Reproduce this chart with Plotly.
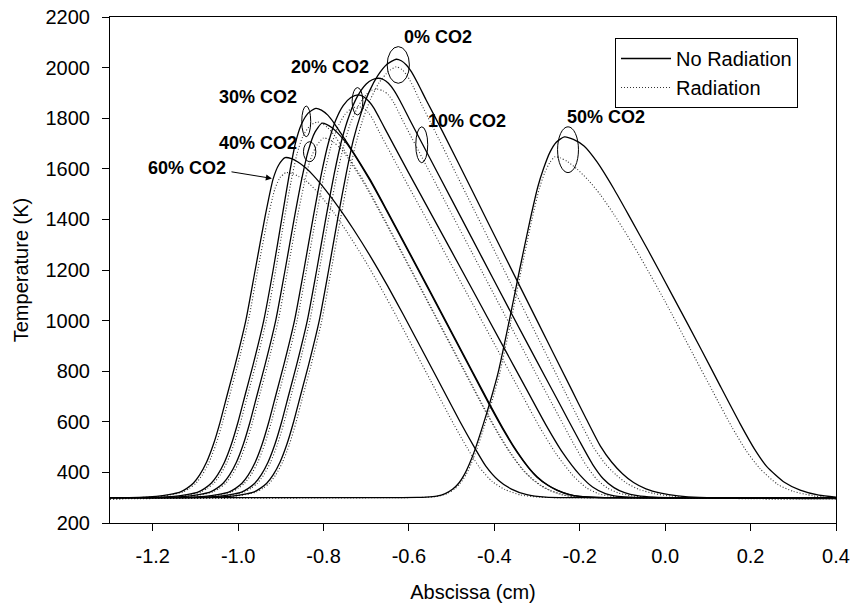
import plotly.graph_objects as go

# ---------------- data ----------------
# No Radiation (solid)
s0_x = [-1.30, -1.060, -1.020, -0.990, -0.964, -0.948, -0.933, -0.918, -0.902, -0.886, -0.870, -0.853, -0.835, -0.810,
        -0.788, -0.766, -0.747, -0.730, -0.712, -0.693, -0.673, -0.652, -0.630,
        -0.618, -0.606, -0.594, -0.580, -0.560, -0.523, -0.450, -0.380, -0.300, -0.220, -0.185, -0.152, -0.125, -0.100, -0.074, -0.045, -0.010, 0.030, 0.080, 0.40]
s0_T = [300, 301, 305, 312, 322, 337, 357, 390, 440, 510, 600, 710, 825, 1000,
        1200, 1410, 1580, 1715, 1820, 1905, 1968, 2012, 2033,
        2027, 2010, 1983, 1940, 1873, 1753, 1507, 1270, 1000, 730, 612, 505, 440, 395, 360, 335, 318, 307, 301, 300]

s10_x = [-1.30, -1.088, -1.048, -1.018, -0.992, -0.976, -0.961, -0.946, -0.930, -0.914, -0.898, -0.881, -0.863, -0.838,
         -0.816, -0.794, -0.775, -0.758, -0.740, -0.721, -0.700, -0.686, -0.672,
         -0.660, -0.648, -0.635, -0.620, -0.600, -0.569, -0.500, -0.430, -0.359, -0.300, -0.250, -0.200, -0.170, -0.145, -0.120, -0.095, -0.065, -0.025, 0.030, 0.40]
s10_T = [300, 301, 305, 312, 322, 337, 357, 390, 440, 510, 600, 710, 825, 1000,
         1200, 1410, 1580, 1710, 1810, 1885, 1935, 1952, 1958,
         1953, 1938, 1910, 1866, 1800, 1700, 1478, 1253, 1025, 838, 680, 522, 432, 375, 340, 320, 308, 302, 300, 300]

s20_x = [-1.30, -1.118, -1.078, -1.048, -1.022, -1.006, -0.991, -0.976, -0.960, -0.944, -0.928, -0.911, -0.893, -0.868,
         -0.846, -0.824, -0.805, -0.789, -0.772, -0.754, -0.736, -0.719,
         -0.706, -0.694, -0.682, -0.670, -0.655, -0.600, -0.550, -0.450, -0.379, -0.330, -0.280, -0.240, -0.200, -0.170, -0.140, -0.110, -0.070, 0.40]
s20_T = [300, 301, 305, 312, 322, 337, 357, 390, 440, 510, 600, 710, 825, 1000,
         1200, 1410, 1580, 1700, 1790, 1850, 1882, 1892,
         1885, 1867, 1840, 1803, 1755, 1582, 1428, 1118, 897, 745, 590, 478, 390, 342, 316, 305, 301, 300]

s30_x = [-1.30, -1.190, -1.150, -1.120, -1.094, -1.078, -1.063, -1.048, -1.032, -1.016, -1.000, -0.983, -0.965, -0.940,
         -0.918, -0.898, -0.881, -0.866, -0.852, -0.836, -0.818,
         -0.805, -0.790, -0.775, -0.760, -0.738, -0.691, -0.650, -0.550, -0.450, -0.410, -0.375, -0.347, -0.320, -0.300, -0.275, -0.253, -0.225, -0.200, -0.160, 0.40]
s30_T = [300, 301, 305, 312, 322, 337, 357, 390, 440, 510, 600, 710, 825, 1000,
         1200, 1400, 1570, 1700, 1775, 1820, 1839,
         1832, 1812, 1780, 1742, 1686, 1558, 1431, 1115, 795, 667, 560, 483, 420, 383, 350, 330, 313, 305, 301, 300]

s40_x = [-1.30, -1.162, -1.122, -1.092, -1.066, -1.050, -1.035, -1.020, -1.004, -0.988, -0.972, -0.955, -0.937, -0.912,
         -0.890, -0.869, -0.851, -0.836, -0.820, -0.804,
         -0.792, -0.780, -0.766, -0.752, -0.738, -0.691, -0.650, -0.550, -0.450, -0.410, -0.375, -0.347, -0.320, -0.300, -0.275, -0.253, -0.225, -0.200, -0.160, 0.40]
s40_T = [300, 301, 305, 312, 322, 337, 357, 390, 440, 510, 600, 710, 825, 1000,
         1200, 1400, 1560, 1670, 1745, 1780,
         1775, 1762, 1740, 1713, 1682, 1553, 1427, 1110, 790, 662, 556, 480, 418, 381, 349, 329, 312, 305, 301, 300]

s50_x = [-1.30, -0.640, -0.580, -0.560, -0.535, -0.515, -0.498, -0.483, -0.470, -0.458, -0.446, -0.426, -0.408, -0.391, -0.365, -0.341, -0.316, -0.298, -0.285, -0.270, -0.255, -0.236,
         -0.215, -0.190, -0.160, -0.120, -0.080, -0.039, 0.020, 0.085, 0.130, 0.175, 0.210, 0.238, 0.280, 0.316, 0.360, 0.40]
s50_T = [300, 300, 301, 302, 306, 316, 333, 358, 392, 435, 487, 590, 690, 795, 1000, 1200, 1400, 1530, 1600, 1665, 1705, 1726,
         1716, 1690, 1628, 1520, 1400, 1275, 1090, 884, 738, 594, 490, 423, 360, 330, 310, 302]

s60_x = [-1.30, -1.232, -1.192, -1.162, -1.136, -1.120, -1.105, -1.090, -1.074, -1.058, -1.042, -1.025, -1.007, -0.982,
         -0.960, -0.937, -0.918, -0.905, -0.890,
         -0.875, -0.860, -0.842, -0.824, -0.795, -0.761, -0.730, -0.691, -0.650, -0.613, -0.535, -0.480, -0.449, -0.420, -0.390, -0.360, -0.324, -0.280, -0.220, 0.40]
s60_T = [300, 301, 305, 312, 322, 337, 357, 390, 440, 510, 600, 710, 825, 1000,
         1200, 1410, 1560, 1615, 1644,
         1640, 1627, 1604, 1574, 1516, 1439, 1361, 1256, 1137, 1023, 775, 599, 506, 425, 368, 334, 312, 302, 300, 300]

# Radiation (dotted)
r0_x = [-1.30, -1.054, -1.014, -0.984, -0.958, -0.942, -0.927, -0.912, -0.896, -0.880, -0.864, -0.847, -0.829, -0.804,
        -0.782, -0.760, -0.742, -0.725, -0.708, -0.690, -0.670, -0.648, -0.630,
        -0.616, -0.603, -0.590, -0.575, -0.538, -0.465, -0.395, -0.315, -0.235, -0.200, -0.167, -0.140, -0.115, -0.089, -0.060, -0.025, 0.015, 0.065, 0.40]
r0_T = [296, 301, 305, 312, 322, 337, 357, 390, 440, 510, 600, 710, 825, 1000,
        1200, 1405, 1565, 1695, 1795, 1875, 1940, 1985, 2003,
        1992, 1965, 1925, 1870, 1745, 1497, 1260, 990, 720, 602, 497, 433, 390, 356, 332, 316, 306, 300, 296]

r10_x = [-1.30, -1.082, -1.042, -1.012, -0.986, -0.970, -0.955, -0.940, -0.924, -0.908, -0.892, -0.875, -0.857, -0.832,
         -0.810, -0.788, -0.770, -0.753, -0.736, -0.718, -0.700, -0.688, -0.675,
         -0.660, -0.648, -0.635, -0.615, -0.584, -0.515, -0.445, -0.374, -0.315, -0.265, -0.215, -0.185, -0.160, -0.135, -0.110, -0.080, -0.040, 0.020, 0.40]
r10_T = [296, 301, 305, 312, 322, 337, 357, 390, 440, 510, 600, 710, 825, 1000,
         1200, 1405, 1565, 1690, 1785, 1850, 1893, 1910, 1915,
         1908, 1892, 1860, 1792, 1692, 1470, 1245, 1017, 830, 672, 515, 428, 372, 338, 319, 308, 302, 298, 296]

r20_x = [-1.30, -1.112, -1.072, -1.042, -1.016, -1.000, -0.985, -0.970, -0.954, -0.938, -0.922, -0.905, -0.887, -0.862,
         -0.840, -0.818, -0.800, -0.784, -0.768, -0.750, -0.733, -0.716,
         -0.705, -0.695, -0.685, -0.670, -0.615, -0.565, -0.465, -0.394, -0.345, -0.295, -0.255, -0.215, -0.185, -0.155, -0.125, -0.085, 0.40]
r20_T = [296, 301, 305, 312, 322, 337, 357, 390, 440, 510, 600, 710, 825, 1000,
         1200, 1405, 1565, 1680, 1760, 1815, 1840, 1845,
         1838, 1822, 1797, 1747, 1574, 1420, 1110, 889, 737, 582, 472, 386, 340, 315, 305, 300, 296]

r30_x = [-1.30, -1.184, -1.144, -1.114, -1.088, -1.072, -1.057, -1.042, -1.026, -1.010, -0.994, -0.977, -0.959, -0.934,
         -0.912, -0.892, -0.876, -0.862, -0.848, -0.832, -0.815,
         -0.802, -0.790, -0.775, -0.753, -0.706, -0.665, -0.565, -0.465, -0.425, -0.390, -0.362, -0.335, -0.315, -0.290, -0.268, -0.240, -0.215, -0.175, 0.40]
r30_T = [296, 301, 305, 312, 322, 337, 357, 390, 440, 510, 600, 710, 825, 1000,
         1200, 1400, 1550, 1660, 1730, 1770, 1785,
         1778, 1762, 1733, 1677, 1552, 1425, 1106, 787, 659, 553, 477, 415, 380, 348, 328, 312, 304, 300, 296]

r40_x = [-1.30, -1.156, -1.116, -1.086, -1.060, -1.044, -1.029, -1.014, -0.998, -0.982, -0.966, -0.949, -0.931, -0.906,
         -0.884, -0.863, -0.846, -0.832, -0.817, -0.800,
         -0.788, -0.775, -0.762, -0.753, -0.706, -0.665, -0.565, -0.465, -0.425, -0.390, -0.362, -0.335, -0.315, -0.290, -0.268, -0.240, -0.215, -0.175, 0.40]
r40_T = [296, 301, 305, 312, 322, 337, 357, 390, 440, 510, 600, 710, 825, 1000,
         1200, 1395, 1535, 1630, 1690, 1722,
         1717, 1703, 1683, 1667, 1545, 1419, 1102, 782, 654, 549, 474, 413, 378, 346, 327, 311, 304, 300, 296]

r50_x = [-1.30, -0.636, -0.576, -0.556, -0.531, -0.511, -0.494, -0.479, -0.466, -0.454, -0.442, -0.422, -0.404, -0.387, -0.361, -0.337, -0.312, -0.295, -0.282, -0.270, -0.258,
         -0.245, -0.230, -0.207, -0.180, -0.152, -0.120, -0.090, -0.063, 0.000, 0.065, 0.110, 0.155, 0.190, 0.222, 0.264, 0.300, 0.345, 0.40]
r50_T = [296, 300, 301, 302, 306, 316, 333, 358, 392, 435, 487, 590, 690, 795, 1000, 1200, 1400, 1520, 1585, 1625, 1648,
         1643, 1630, 1600, 1555, 1498, 1420, 1340, 1265, 1075, 868, 725, 583, 485, 415, 352, 325, 308, 296]

r60_x = [-1.30, -1.226, -1.186, -1.156, -1.130, -1.114, -1.099, -1.084, -1.068, -1.052, -1.036, -1.019, -1.001, -0.976,
         -0.954, -0.931, -0.914, -0.902, -0.888,
         -0.873, -0.858, -0.839, -0.810, -0.776, -0.745, -0.706, -0.665, -0.628, -0.550, -0.495, -0.464, -0.435, -0.405, -0.375, -0.339, -0.295, -0.235, 0.40]
r60_T = [296, 301, 305, 312, 322, 337, 357, 390, 440, 510, 600, 710, 825, 1000,
         1200, 1400, 1520, 1565, 1585,
         1581, 1570, 1550, 1500, 1427, 1350, 1246, 1127, 1013, 765, 590, 498, 420, 364, 332, 311, 302, 300, 296]

# annotation labels: text, x, T
label_text = ["0% CO2", "10% CO2", "20% CO2", "30% CO2", "40% CO2", "50% CO2", "60% CO2"]
label_x = [-0.532, -0.465, -0.785, -0.953, -0.953, -0.138, -1.119]
label_T = [2122, 1790, 2003, 1885, 1701, 1806, 1602]

# ellipses marking the curves: x0, x1, T0, T1
ell_x0 = [-0.651, -0.584, -0.733, -0.851, -0.847, -0.252]
ell_x1 = [-0.599, -0.556, -0.708, -0.830, -0.818, -0.203]
ell_T0 = [1938, 1624, 1813, 1727, 1628, 1585]
ell_T1 = [2083, 1766, 1921, 1848, 1707, 1766]

# arrow for 60% CO2: tail -> head
arrow_tail = (-1.019, 1589)
arrow_head = (-0.921, 1562)

x_ticks = [-1.2, -1.0, -0.8, -0.6, -0.4, -0.2, 0.0, 0.2, 0.4]
x_ticktext = ["-1.2", "-1.0", "-0.8", "-0.6", "-0.4", "-0.2", "0.0", "0.2", "0.4"]

# ---------------- figure ----------------
FONT = "Arial, Liberation Sans, sans-serif"
fig = go.Figure()

solid = [(s0_x, s0_T), (s10_x, s10_T), (s20_x, s20_T), (s30_x, s30_T),
         (s40_x, s40_T), (s50_x, s50_T), (s60_x, s60_T)]
dotted = [(r0_x, r0_T), (r10_x, r10_T), (r20_x, r20_T), (r30_x, r30_T),
          (r40_x, r40_T), (r50_x, r50_T), (r60_x, r60_T)]

for i, (xs, ts) in enumerate(dotted):
    fig.add_trace(go.Scatter(
        x=xs, y=ts, mode="lines", name="Radiation", legendgroup="rad",
        showlegend=(i == 0), legendrank=2,
        line=dict(color="#333333", width=1.1, dash="1px,2px", shape="spline", smoothing=0.6)))
for i, (xs, ts) in enumerate(solid):
    fig.add_trace(go.Scatter(
        x=xs, y=ts, mode="lines", name="No Radiation", legendgroup="norad",
        showlegend=(i == 0), legendrank=1,
        line=dict(color="black", width=1.3, shape="spline", smoothing=0.6)))

for t, x, y in zip(label_text, label_x, label_T):
    fig.add_annotation(x=x, y=y, text=f"<b>{t}</b>", showarrow=False,
                       font=dict(family=FONT, size=18, color="black"))

for x0, x1, y0, y1 in zip(ell_x0, ell_x1, ell_T0, ell_T1):
    fig.add_shape(type="circle", xref="x", yref="y", x0=x0, x1=x1, y0=y0, y1=y1,
                  line=dict(color="black", width=1))

fig.add_annotation(x=arrow_head[0], y=arrow_head[1], ax=arrow_tail[0], ay=arrow_tail[1],
                   axref="x", ayref="y", text="", showarrow=True,
                   arrowhead=2, arrowsize=1.2, arrowwidth=1, arrowcolor="black")

fig.update_layout(
    width=852, height=603,
    margin=dict(l=110, r=16, t=17, b=80, autoexpand=False),
    paper_bgcolor="white", plot_bgcolor="white",
    font=dict(family=FONT, color="black", size=20),
    legend=dict(x=0.6956, y=0.9585, xanchor="left", yanchor="top",
                bordercolor="black", borderwidth=1, bgcolor="white",
                font=dict(family=FONT, size=20), itemwidth=50,
                tracegroupgap=0),
)
fig.update_xaxes(range=[-1.3, 0.4], tickvals=x_ticks, ticktext=x_ticktext,
                 showline=True, linecolor="black", linewidth=1, mirror=True,
                 ticks="outside", ticklen=7, tickcolor="black", showgrid=False, zeroline=False,
                 tickfont=dict(family=FONT, size=20), ticklabelstandoff=8, automargin=False,
                 title=dict(text="Abscissa (cm)", font=dict(family=FONT, size=20), standoff=18))
fig.update_yaxes(range=[200, 2200], tick0=200, dtick=200,
                 showline=True, linecolor="black", linewidth=1, mirror=True,
                 ticks="outside", ticklen=7, tickcolor="black", showgrid=False, zeroline=False,
                 tickfont=dict(family=FONT, size=20), ticklabelstandoff=8, automargin=False,
                 title=dict(text="Temperature (K)", font=dict(family=FONT, size=20), standoff=11))

fig.write_html("out.html", config={"displayModeBar": False},
               post_script="document.body.style.margin='0px';document.body.style.padding='0px';")
